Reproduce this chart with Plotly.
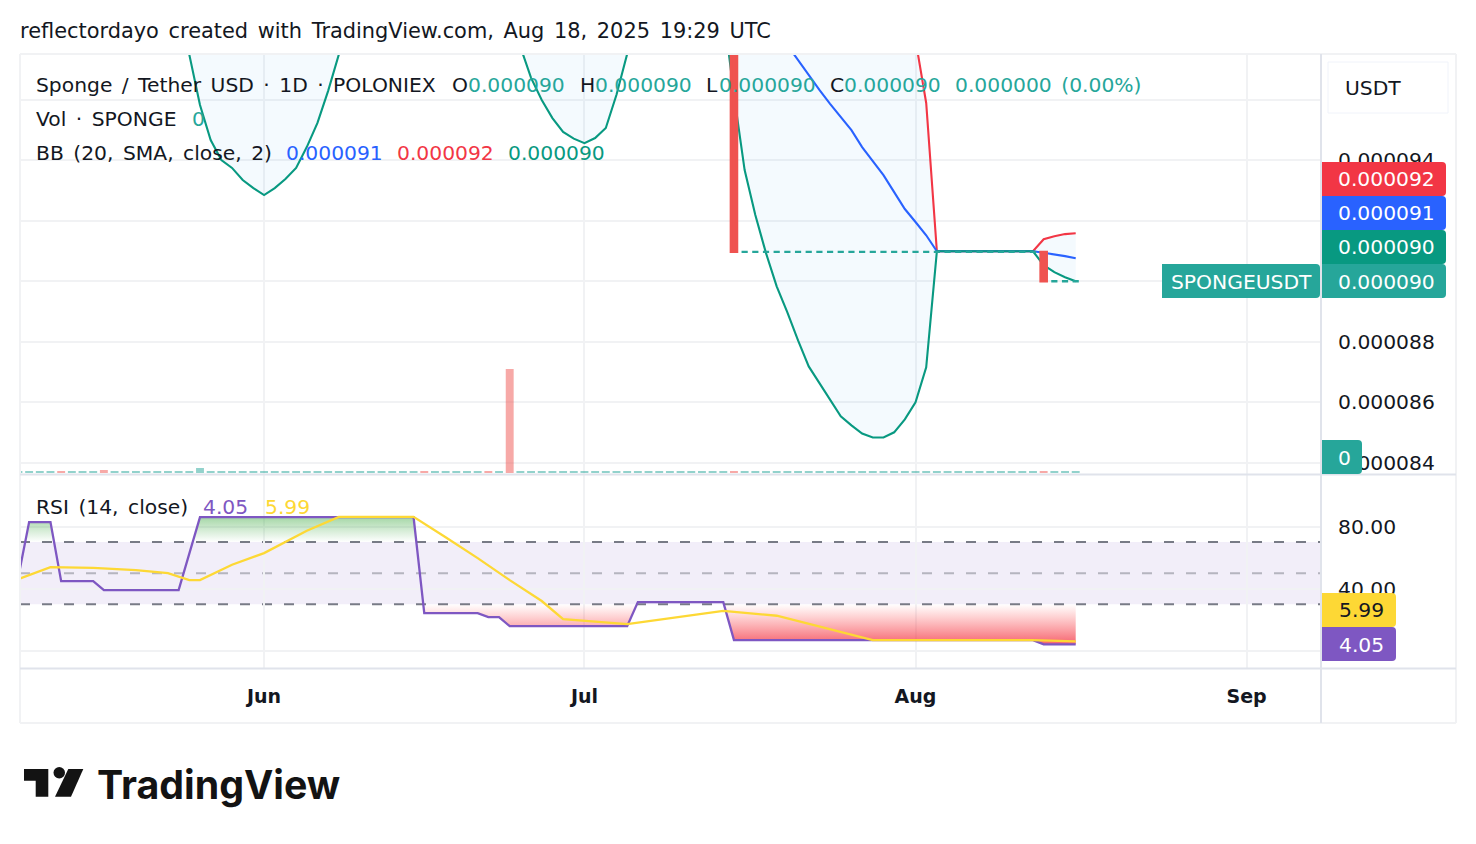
import pandas as pd
import plotly.graph_objects as go

# prices are in millionths of USDT
hump1_dates = pd.date_range('2025-05-24', '2025-06-09')
hump1_lower = [101.5, 97.5, 95.83, 94.67, 94.01, 93.75, 93.35, 93.08, 92.85, 93.08,
               93.38, 93.75, 94.44, 95.24, 96.30, 97.5, 100.0]
hump1_upper = [112, 112, 112, 112, 112, 112, 112, 112, 112, 112,
               112, 112, 112, 112, 112, 112, 112]

hump2_dates = pd.date_range('2025-06-25', '2025-07-06')
hump2_lower = [97.76, 96.73, 96.0, 95.40, 94.94, 94.72, 94.57, 94.74, 95.07, 96.17, 97.52, 98.65]
hump2_upper = [110, 110, 110, 110, 110, 110, 110, 110, 110, 110, 110, 110]

bb_dates = pd.date_range('2025-07-14', '2025-08-16')
bb_lower = [99.0, 96.17, 93.68, 92.19, 90.93, 89.83, 88.97, 88.04, 87.18, 86.62, 86.06, 85.53,
            85.23, 84.96, 84.83, 84.83, 85.0, 85.43, 85.99, 87.15, 90.99,
            90.99, 90.99, 90.99, 90.99, 90.99, 90.99, 90.99, 90.99, 90.99,
            90.53, 90.30, 90.13, 90.0]
bb_basis = [100.6, 100.2, 99.8, 99.3, 98.8, 98.3, 97.79, 97.33, 96.79, 96.33, 95.87, 95.44,
            95.0, 94.44, 93.98, 93.51, 92.95, 92.39, 91.96, 91.52, 90.99,
            90.99, 90.99, 90.99, 90.99, 90.99, 90.99, 90.99, 90.99, 90.99,
            90.94, 90.89, 90.83, 90.76]
bb_upper = [105, 105, 106, 106, 106, 105.5, 105, 104.6, 104.5, 104.6, 104.7, 104.7,
            104.8, 104.0, 103.1, 102.2, 100.9, 99.35, 97.99, 95.90, 90.99,
            90.99, 90.99, 90.99, 90.99, 90.99, 90.99, 90.99, 90.99, 90.99,
            91.39, 91.49, 91.56, 91.59]

candle_dates = pd.date_range('2025-07-15', '2025-08-16')
candle_open = [112.0] + [90.97] * 28 + [90.97, 90.0, 90.0, 90.0]
candle_close = [90.97] + [90.97] * 28 + [90.0, 90.0, 90.0, 90.0]

vol_dates = pd.date_range('2025-05-09', '2025-08-16')
vol_values = [2, 2, 2, 2, 2, 2, 2, 2, 3, 2, 2, 2, 2, 2, 2, 2, 2, 5, 2, 2,
              2, 2, 2, 2, 2, 2, 2, 2, 2, 2, 2, 2, 2, 2, 2, 2, 2, 2, 2, 2,
              2, 2, 2, 2, 2, 2, 104, 2, 2, 2, 2, 2, 2, 2, 2, 2, 2, 2, 2, 2,
              2, 2, 2, 2, 2, 2, 2, 2, 2, 2, 2, 2, 2, 2, 2, 2, 2, 2, 2, 2,
              2, 2, 2, 2, 2, 2, 2, 2, 2, 2, 2, 2, 2, 2, 2, 2, 2, 2, 2, 2]
vol_red_days = ['2025-05-13', '2025-05-17', '2025-06-16', '2025-06-22', '2025-06-24',
                '2025-07-15', '2025-08-13']

rsi_dates = ['2025-05-09', '2025-05-10', '2025-05-12', '2025-05-13', '2025-05-16', '2025-05-17',
             '2025-05-24', '2025-05-26', '2025-06-15', '2025-06-16', '2025-06-21', '2025-06-22',
             '2025-06-23', '2025-06-24', '2025-07-05', '2025-07-06', '2025-07-14', '2025-07-15',
             '2025-08-12', '2025-08-13', '2025-08-16']
rsi_values = [48.0, 82.9, 82.9, 44.8, 44.8, 39.0, 39.0, 86.1, 86.1, 24.2, 24.2, 21.6,
              21.6, 15.8, 15.8, 31.3, 31.3, 6.8, 6.8, 4.05, 4.05]

ma_dates = ['2025-05-09', '2025-05-12', '2025-05-16', '2025-05-20', '2025-05-23', '2025-05-25',
            '2025-05-26', '2025-05-29', '2025-06-01', '2025-06-05', '2025-06-08', '2025-06-15',
            '2025-06-18', '2025-06-21', '2025-06-24', '2025-06-27', '2025-06-29', '2025-07-05',
            '2025-07-14', '2025-07-19', '2025-07-28', '2025-08-12', '2025-08-16']
ma_values = [46.2, 53.9, 53.4, 51.9, 50.0, 45.5, 45.5, 55.4, 62.9, 77.3, 86.3, 86.3,
             73.2, 59.7, 45.5, 32.0, 20.3, 17.1, 25.7, 22.5, 6.8, 6.8, 5.99]

month_ticks = ['2025-06-01', '2025-07-01', '2025-08-01', '2025-09-01']
month_labels = ['Jun', 'Jul', 'Aug', 'Sep']
price_ticks = [84, 86, 88, 90, 92, 94, 96]
price_labels = ['0.000084', '0.000086', '0.000088', '', '', '0.000094', '']
rsi_ticks = [40, 80]

FONT = 'DejaVu Sans'
FS = 20.3
TEXT = '#131722'
TEAL = '#26A69A'
RED = '#F23645'
BLUE = '#2962FF'
GREEN = '#089981'
PURPLE = '#7E57C2'
YELLOW = '#FDD835'
GRID = '#F1F2F4'
EDGE = '#E0E3EB'
W, H = 1476, 844


def px(x):
    return x / W


def py(y):
    return 1 - y / H


def e6(values):
    return [v * 1e-6 for v in values]


def clip_band(dates, values, level, above):
    # keep the part of a line beyond a level, with the crossings added
    t = pd.to_datetime(dates).astype('int64').tolist()
    xs, ys = [], []
    for i in range(len(t)):
        if i > 0 and (values[i - 1] - level) * (values[i] - level) < 0:
            f = (level - values[i - 1]) / (values[i] - values[i - 1])
            xs.append(t[i - 1] + f * (t[i] - t[i - 1]))
            ys.append(level)
        xs.append(t[i])
        ys.append(max(values[i], level) if above else min(values[i], level))
    xs = pd.to_datetime(xs).tolist()
    return xs + xs[::-1], ys + [level] * len(ys)


def band(dates, lower, upper):
    d = list(dates)
    return go.Scatter(x=d + d[::-1], y=e6(upper) + e6(lower)[::-1], mode='none', fill='toself',
                      fillcolor='rgba(33,150,243,0.05)', xaxis='x', yaxis='y2',
                      hoverinfo='skip', showlegend=False)


def line(dates, values, color, yaxis='y2', xaxis='x', width=2.1):
    return go.Scatter(x=list(dates), y=values, mode='lines', xaxis=xaxis, yaxis=yaxis,
                      line=dict(color=color, width=width), showlegend=False)


fig = go.Figure()

vol_colors = ['rgba(239,83,80,0.5)' if d.strftime('%Y-%m-%d') in vol_red_days
              else 'rgba(38,166,154,0.5)' for d in vol_dates]
fig.add_trace(go.Bar(x=vol_dates, y=vol_values, marker=dict(color=vol_colors, line_width=0),
                     width=86400000 * 0.74, xaxis='x', yaxis='y', showlegend=False))

fig.add_trace(band(hump1_dates, hump1_lower, hump1_upper))
fig.add_trace(band(hump2_dates, hump2_lower, hump2_upper))
fig.add_trace(band(bb_dates, bb_lower, bb_upper))
fig.add_trace(line(hump1_dates, e6(hump1_lower), GREEN))
fig.add_trace(line(hump2_dates, e6(hump2_lower), GREEN))
fig.add_trace(line(bb_dates, e6(bb_upper), RED))
fig.add_trace(line(bb_dates, e6(bb_basis), BLUE))
fig.add_trace(line(bb_dates, e6(bb_lower), GREEN))

candle_colors = ['#EF5350' if c < o else TEAL for o, c in zip(candle_open, candle_close)]
fig.add_trace(go.Bar(x=candle_dates, y=[(c - o) * 1e-6 for o, c in zip(candle_open, candle_close)],
                     base=e6(candle_open), width=86400000 * 0.58,
                     marker=dict(color=candle_colors, line=dict(color=candle_colors, width=2.4)),
                     xaxis='x', yaxis='y3', showlegend=False))

# rsi gradient zones, drawn under the lines
x_over, y_over = clip_band(rsi_dates, rsi_values, 70, True)
fig.add_trace(go.Scatter(x=x_over, y=y_over, mode='none', fill='toself', xaxis='x2', yaxis='y4',
                         fillgradient=dict(type='vertical', start=86, stop=70,
                                           colorscale=[[0, 'rgba(76,175,80,0.5)'], [1, 'rgba(76,175,80,0)']]),
                         hoverinfo='skip', showlegend=False))
x_under, y_under = clip_band(rsi_dates, rsi_values, 30, False)
fig.add_trace(go.Scatter(x=x_under, y=y_under, mode='none', fill='toself', xaxis='x2', yaxis='y4',
                         fillgradient=dict(type='vertical', start=30, stop=5,
                                           colorscale=[[0, 'rgba(255,82,82,0)'], [1, 'rgba(242,54,69,0.75)']]),
                         hoverinfo='skip', showlegend=False))
fig.add_trace(line(rsi_dates, rsi_values, PURPLE, 'y4', 'x2', 2.3))
fig.add_trace(line(ma_dates, ma_values, YELLOW, 'y4', 'x2', 2.3))

shapes = []
annotations = []


def label(x, y, text, color=TEXT, size=FS, anchor='left'):
    if anchor == 'left':
        x -= 2
    annotations.append(dict(xref='paper', yref='paper', x=px(x), y=py(y), text=text, showarrow=False,
                            xanchor=anchor, yanchor='middle', align=anchor,
                            font=dict(family=FONT, size=size, color=color)))


def edge(x0, y0, x1, y1, color=EDGE, width=2):
    shapes.append(dict(type='line', xref='paper', yref='paper', x0=px(x0), y0=py(y0), x1=px(x1), y1=py(y1),
                       line=dict(color=color, width=width), layer='above'))


def chip(x0, y0, x1, y1, color, r=4):
    p = (f'M {px(x0)},{py(y0)} L {px(x1 - r)},{py(y0)} Q {px(x1)},{py(y0)} {px(x1)},{py(y0 + r)} '
         f'L {px(x1)},{py(y1 - r)} Q {px(x1)},{py(y1)} {px(x1 - r)},{py(y1)} L {px(x0)},{py(y1)} Z')
    shapes.append(dict(type='path', xref='paper', yref='paper', path=p, fillcolor=color,
                       line=dict(width=0), layer='above'))


# rsi band and levels
shapes.append(dict(type='rect', xref='paper', yref='y4', x0=px(20), x1=px(1320), y0=30, y1=70,
                   fillcolor='rgba(126,87,194,0.1)', line_width=0, layer='below'))
for level, col in [(70, '#787B86'), (50, 'rgba(120,123,134,0.5)'), (30, '#787B86')]:
    shapes.append(dict(type='line', xref='paper', yref='y4', x0=px(20), x1=px(1320), y0=level, y1=level,
                       line=dict(color=col, width=2, dash='10px,12px'), layer='below'))

# frame
edge(20, 54, 1456, 54, GRID)
edge(20, 54, 20, 723, GRID)
edge(1456, 54, 1456, 723, GRID)
edge(20, 723, 1456, 723, GRID)
edge(20, 474.5, 1456, 474.5)
edge(20, 668.5, 1456, 668.5)
edge(1321, 54, 1321, 723)

# value chips on the price and rsi scales
chip(1322, 162, 1446, 196, RED)
chip(1322, 196, 1446, 230, BLUE)
chip(1322, 230, 1446, 264, GREEN)
chip(1322, 264, 1446, 298, TEAL)
chip(1162, 264, 1320, 298, TEAL)
chip(1322, 440, 1362, 474, TEAL)
chip(1322, 593, 1396, 627, YELLOW)
chip(1322, 627, 1396, 661, PURPLE)
shapes.append(dict(type='rect', xref='paper', yref='paper', x0=px(1328), x1=px(1448), y0=py(62), y1=py(113),
                   fillcolor='white', line=dict(color='#F0F3FA', width=1), layer='above'))

label(1386, 179, '0.000092', 'white', anchor='center')
label(1386, 213, '0.000091', 'white', anchor='center')
label(1386, 247, '0.000090', 'white', anchor='center')
label(1386, 282, '0.000090', 'white', anchor='center')
label(1241, 282, 'SPONGEUSDT', 'white', anchor='center')
label(1344, 458, '0', 'white', anchor='center')
label(1361, 610, '5.99', '#131722', anchor='center')
label(1361, 645, '4.05', 'white', anchor='center')
label(1373, 88, 'USDT', '#131722', anchor='center')

# header and legend texts
label(20, 31, 'reflectordayo created with TradingView.com, Aug 18, 2025 19:29 UTC', '#131722', size=20.9)
label(36, 85, 'Sponge / Tether USD · 1D · POLONIEX')
for x, name, value in [(452, 'O', '0.000090'), (580, 'H', '0.000090'), (706, 'L', '0.000090'), (830, 'C', '0.000090')]:
    label(x, 85, name)
    label(x + {'O': 16, 'H': 15, 'L': 13, 'C': 14}[name], 85, value, TEAL)
label(955, 85, '0.000000 (0.00%)', TEAL)
label(36, 119, 'Vol · SPONGE')
label(192, 119, '0', TEAL)
label(36, 153, 'BB (20, SMA, close, 2)')
label(286, 153, '0.000091', BLUE)
label(397, 153, '0.000092', RED)
label(508, 153, '0.000090', GREEN)
label(36, 507, 'RSI (14, close)')
label(203, 507, '4.05', PURPLE)
label(265, 507, '5.99', YELLOW)

# logo mark and wordmark
for pts in [[(24, 769), (48.3, 769), (48.3, 796.7), (35.7, 796.7), (35.7, 780.7), (24, 780.7)],
            [(68.3, 769), (83.3, 769), (71, 796.7), (55, 796.7)]]:
    path = 'M ' + ' L '.join(f'{px(a)},{py(b)}' for a, b in pts) + ' Z'
    shapes.append(dict(type='path', xref='paper', yref='paper', path=path, fillcolor='#131313',
                       line_width=0, layer='above'))
shapes.append(dict(type='circle', xref='paper', yref='paper', x0=px(53.5), x1=px(65), y0=py(767), y1=py(778.5),
                   fillcolor='#131313', line_width=0, layer='above'))
annotations.append(dict(xref='paper', yref='paper', x=px(95), y=py(784), text='<b>TradingView</b>', showarrow=False,
                        xanchor='left', yanchor='middle', font=dict(family='Inter', size=39.3, color='#131313')))

x_range = ['2025-05-09 03:30', '2025-09-07 21:00']
x_base = dict(type='date', range=x_range, tickmode='array', tickvals=month_ticks, ticktext=month_labels,
              showgrid=True, gridcolor=GRID, gridwidth=2, zeroline=False, showline=False)
price_dom = [py(474), py(54)]
rsi_dom = [py(668), py(475)]
price_range = [83.62, 97.52]

fig.update_layout(
    width=W, height=H, margin=dict(l=0, r=0, t=0, b=0),
    paper_bgcolor='white', plot_bgcolor='white', showlegend=False,
    barmode='overlay', hovermode=False,
    font=dict(family=FONT, size=FS, color=TEXT),
    shapes=shapes, annotations=annotations,
    xaxis=dict(x_base, domain=[px(20), px(1320)], showticklabels=False, anchor='y'),
    xaxis2=dict(x_base, domain=[px(20), px(1320)], matches='x', anchor='y4', ticklen=11,
                tickcolor='rgba(0,0,0,0)', ticks='outside',
                tickfont=dict(family=FONT, size=19, color=TEXT, weight='bold')),
    yaxis=dict(domain=price_dom, range=[-1, 419], visible=False, fixedrange=True),
    yaxis2=dict(domain=price_dom, overlaying='y', side='right', anchor='x', range=[v * 1e-6 for v in price_range],
                tickmode='array', tickvals=e6(price_ticks), ticktext=price_labels,
                showgrid=True, gridcolor=GRID, gridwidth=2, zeroline=False, showline=False,
                ticks='outside', ticklen=13, tickcolor='rgba(0,0,0,0)',
                tickfont=dict(family=FONT, size=FS, color=TEXT)),
    yaxis3=dict(domain=price_dom, overlaying='y', anchor='x', range=[v * 1e-6 for v in price_range], visible=False),
    yaxis4=dict(domain=rsi_dom, side='right', anchor='x2', range=[-11.2, 113.3],
                tickmode='array', tickvals=rsi_ticks, ticktext=[f'{t:.2f}' for t in rsi_ticks],
                showgrid=True, gridcolor=GRID, gridwidth=2, zeroline=True, zerolinecolor=GRID, zerolinewidth=2,
                showline=False, ticks='outside', ticklen=13, tickcolor='rgba(0,0,0,0)',
                tickfont=dict(family=FONT, size=FS, color=TEXT)),
)

page_css = ("html,body{margin:0;height:844px;overflow:hidden}"
            ".annotation-text{word-spacing:3px}")
fig.write_html('out.html', config={'displayModeBar': False},
               post_script="var s=document.createElement('style');s.textContent='" + page_css + "';"
                           "document.head.appendChild(s);")
